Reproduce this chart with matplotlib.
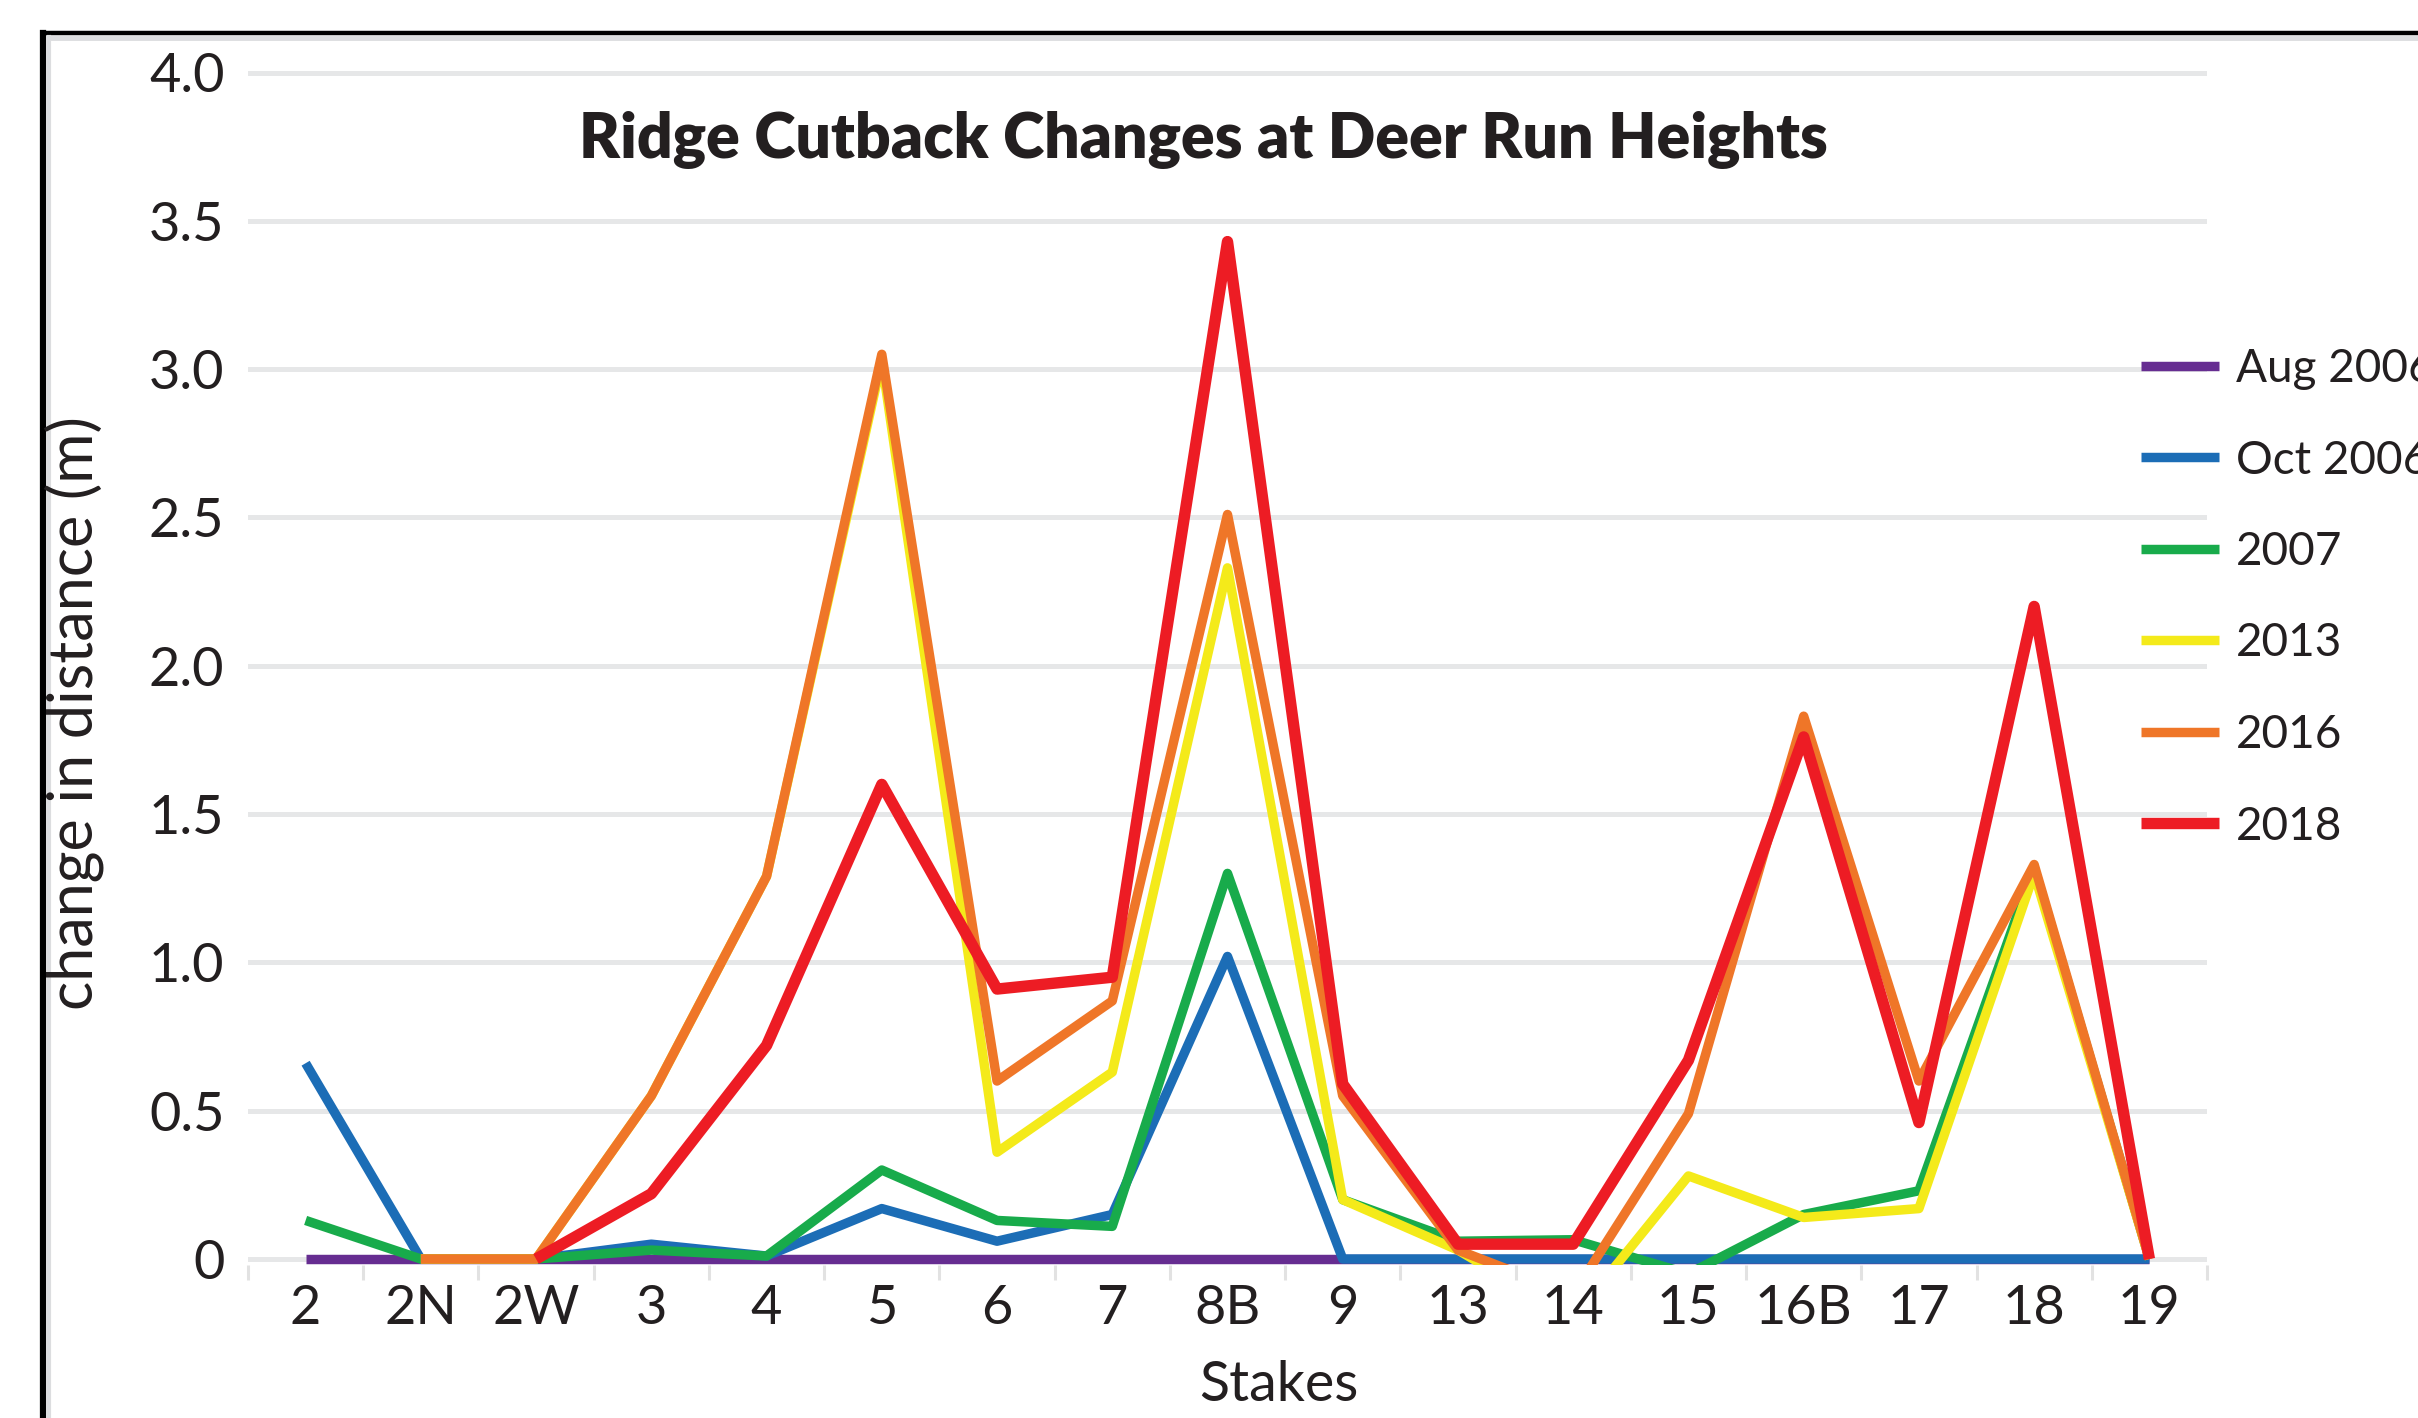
import numpy as np
import matplotlib
matplotlib.use("Agg")
import matplotlib.pyplot as plt
from matplotlib.lines import Line2D

nan = np.nan

# stakes along the ridge and measured cutback (m) per survey
stakes = ['2', '2N', '2W', '3', '4', '5', '6', '7', '8B', '9',
          '13', '14', '15', '16B', '17', '18', '19']
aug_2006 = [0, 0, 0, 0, 0, 0, 0, 0, 0, 0, 0, 0, 0, 0, 0, 0, 0]
oct_2006 = [0.66, 0, 0, 0.05, 0.01, 0.17, 0.06, 0.15, 1.02, 0,
            0, 0, 0, 0, 0, 0, 0]
s2007 = [0.13, 0, 0, 0.03, 0.01, 0.30, 0.13, 0.11, 1.30, 0.20,
         0.06, 0.065, -0.05, 0.15, 0.23, 1.32, 0]
s2013 = [nan, 0, 0, 0.55, 1.29, 3.03, 0.36, 0.63, 2.33, 0.20,
         0.03, -0.20, 0.28, 0.14, 0.17, 1.30, 0]
s2016 = [nan, 0, 0, 0.55, 1.29, 3.05, 0.60, 0.87, 2.51, 0.55,
         0.03, -0.12, 0.49, 1.83, 0.60, 1.33, 0]
s2018 = [nan, nan, 0, 0.22, 0.72, 1.60, 0.91, 0.95, 3.43, 0.59,
         0.05, 0.05, 0.67, 1.76, 0.46, 2.20, 0]

series = [
    ('Aug 2006', aug_2006, '#662d91', 6.8),
    ('Oct 2006', oct_2006, '#1c6db6', 6.8),
    ('2007', s2007, '#18ab4b', 6.8),
    ('2013', s2013, '#f4ea1a', 6.8),
    ('2016', s2016, '#ef7628', 6.8),
    ('2018', s2018, '#ed1c24', 8.2),
]

ink = '#231f20'
grid_c = '#e6e7e8'

plt.rcParams['font.family'] = ['Lato', 'DejaVu Sans']
plt.rcParams['text.color'] = ink

W, H = 2418, 1418
fig = plt.figure(figsize=(W / 100, H / 100), dpi=100)
fig.patch.set_facecolor('white')

# plot area in pixels: x 248..2207, y(0)=1259, y(4)=72.5
ymin, ymax = -0.02, 4.02
ppu = (1259 - 72.5) / 4.0
bottom_px = 1259 + (0 - ymin) * ppu
height_px = (ymax - ymin) * ppu
ax = fig.add_axes([248 / W, (H - bottom_px) / H, (2207 - 248) / W, height_px / H])
ax.set_xlim(-0.5, len(stakes) - 0.5)
ax.set_ylim(ymin, ymax)

for s in ax.spines.values():
    s.set_visible(False)

yticks = np.arange(0, 4.01, 0.5)
for yv in yticks:
    ax.axhline(yv, color=grid_c, lw=3.6, zorder=1)

x = np.arange(len(stakes))
for name, vals, col, lw in series:
    ax.plot(x, vals, color=col, lw=lw, solid_joinstyle='round',
            solid_capstyle='butt', label=name, zorder=3)

ax.set_yticks(yticks)
ax.set_yticklabels(['0'] + ['%.1f' % v for v in yticks[1:]])
ax.tick_params(axis='y', length=0, pad=17, labelsize=39, labelcolor=ink)

ax.set_xticks(x)
ax.set_xticklabels(stakes)
ax.tick_params(axis='x', which='major', length=0, pad=14, labelsize=39, labelcolor=ink)
ax.set_xticks(np.arange(-0.5, len(stakes)), minor=True)
ax.tick_params(axis='x', which='minor', length=11, width=2.2, color='#e2e2e2')

fig.text(1203 / W, 1 - 158 / H, 'Ridge Cutback Changes at Deer Run Heights',
         ha='center', va='baseline', fontsize=45, fontweight='heavy', color=ink)
fig.text(74 / W, 1 - 713 / H, 'change in distance (m)', rotation=90,
         ha='center', va='center', fontsize=44, color=ink)
fig.text(1279 / W, 1 - 1401 / H, 'Stakes', ha='center', va='baseline',
         fontsize=40, color=ink)

leg = ax.legend(loc='upper left', bbox_to_anchor=(2141 / W, 1 - 348 / H),
                bbox_transform=fig.transFigure, frameon=False, fontsize=33,
                handlelength=1.7, handletextpad=0.37, labelspacing=1.08,
                borderpad=0, borderaxespad=0)
for t in leg.get_texts():
    t.set_color(ink)

# page frame: black rule on left and top with a soft grey edge inside
fig.add_artist(Line2D([43 / W, 43 / W], [0, 1 - 33 / H], color='black', lw=4.5,
                      transform=fig.transFigure, solid_capstyle='projecting'))
fig.add_artist(Line2D([43 / W, 1], [1 - 33 / H, 1 - 33 / H], color='black', lw=3.2,
                      transform=fig.transFigure, solid_capstyle='projecting'))
fig.add_artist(Line2D([49 / W, 49 / W], [0, 1 - 37 / H], color='#dcdddf', lw=3,
                      transform=fig.transFigure))
fig.add_artist(Line2D([49 / W, 1], [1 - 37.5 / H, 1 - 37.5 / H], color='#dcdddf', lw=3.5,
                      transform=fig.transFigure))

fig.savefig('out.png', dpi=100)
